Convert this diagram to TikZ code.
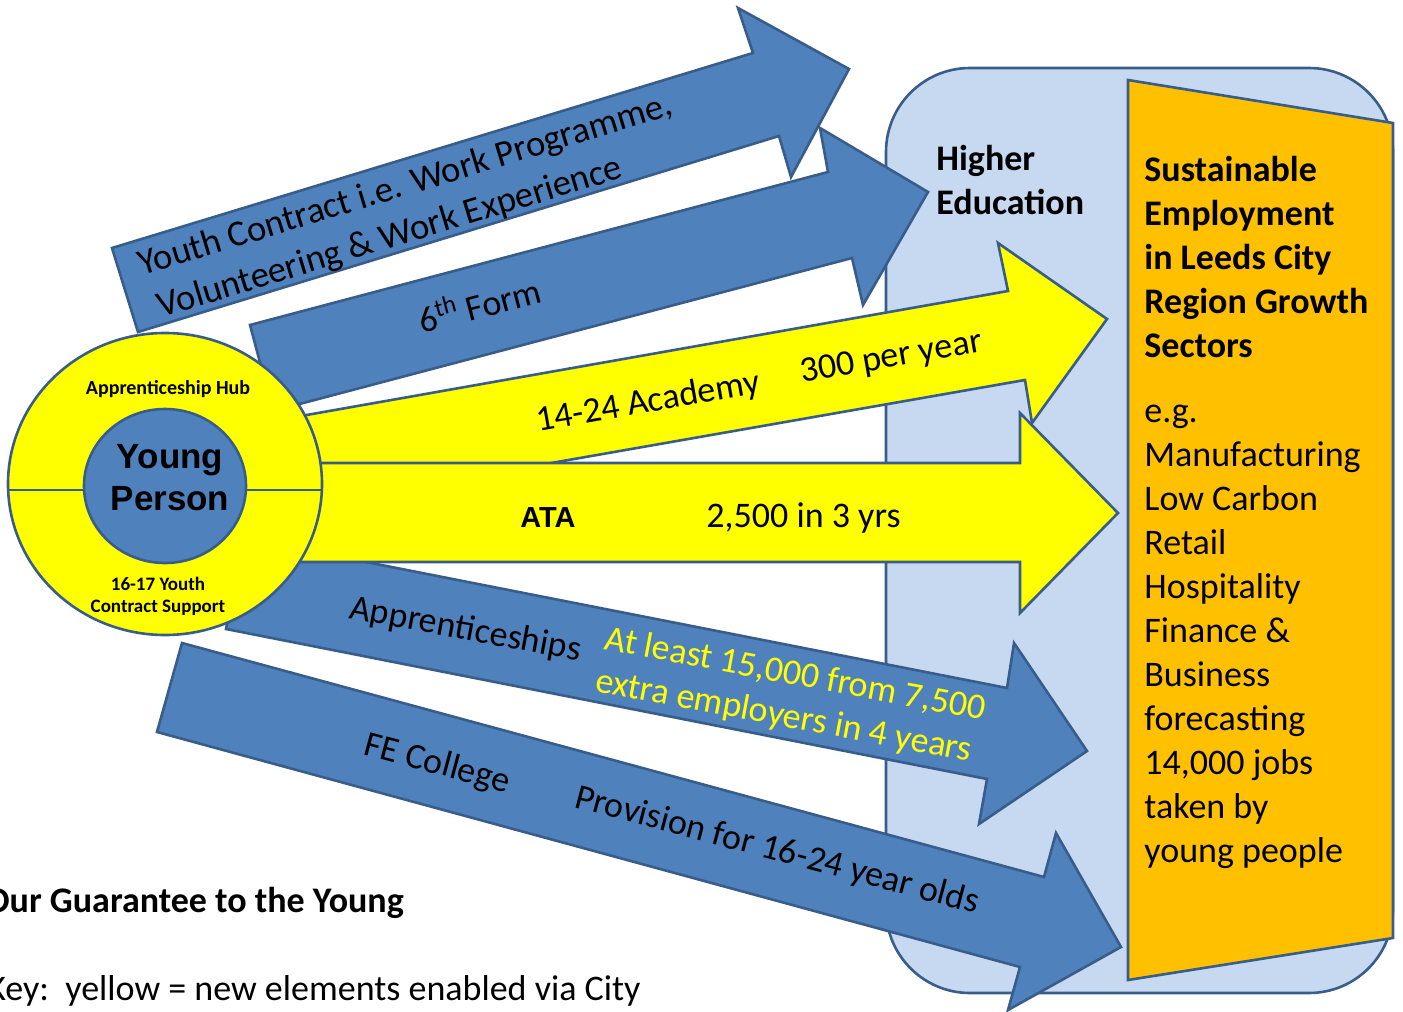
\documentclass[tikz,border=0pt]{standalone}
\usepackage{fontspec}
\setmainfont{Carlito}
\newfontfamily\arialfont{Liberation Sans}
\definecolor{arrowblue}{HTML}{4F81BD}
\definecolor{edgeblue}{HTML}{385D8A}
\definecolor{paleblue}{HTML}{C6D9F1}
\definecolor{panelorange}{HTML}{FFC000}
\definecolor{hubyellow}{HTML}{FFFF00}
\begin{document}
\begin{tikzpicture}[x=0.5pt,y=-0.5pt,
  outl/.style={draw=edgeblue,line width=1.3pt,line join=miter},
  bluearrow/.style={outl,fill=arrowblue},
  yellowarrow/.style={outl,fill=hubyellow},
  lbl/.style={inner sep=0pt,font=\fontsize{18pt}{22pt}\selectfont},
  blbl/.style={inner sep=0pt,font=\fontsize{18pt}{22pt}\selectfont\bfseries},
  rlbl/.style={lbl,anchor=base west},
  smallbold/.style={inner sep=0pt,anchor=base,font=\fontsize{9.5pt}{11pt}\selectfont\bfseries},
  ypfont/.style={inner sep=0pt,anchor=base,font=\arialfont\fontsize{17.5pt}{21pt}\selectfont\bfseries},
]
\useasboundingbox (0,0) rectangle (1403,1012);

% Higher Education panel
\draw[outl,fill=paleblue,rounded corners=42pt] (886,68) rectangle (1393,993);
% Sustainable employment panel
\draw[outl,fill=panelorange] (1128,80) -- (1393,123) -- (1393,938) -- (1128,980) -- cycle;

\node[blbl,anchor=base west] (he1) at (936,170) {Higher};
\node[blbl,anchor=base west] (he2) at (936,214) {Education};

\foreach \t [count=\i] in {Sustainable, Employment, in Leeds City, Region Growth, Sectors}
  \node[blbl,anchor=base west] (sus\i) at (1144,{181+44*(\i-1)}) {\t};
\foreach \t [count=\i] in {e.g., Manufacturing, Low Carbon, Retail, Hospitality, Finance \&, Business, forecasting, {14,000 jobs}, taken by, young people}
  \node[rlbl] (eg\i) at (1144,{422+44*(\i-1)}) {\t};

% Youth Contract arrow
\draw[bluearrow] (112,248) -- (753,53) -- (738,8) -- (849,69) -- (791,177) -- (779,136) -- (138,332) -- cycle;
% 6th Form arrow
\draw[bluearrow] (250,325) -- (828,172) -- (820,128) -- (928,192) -- (863,305) -- (852,258) -- (273,411) -- cycle;
% 14-24 Academy arrow
\draw[yellowarrow] (250,425) -- (1008,291) -- (998,243) -- (1107,319) -- (1032,423) -- (1025,380) -- (266,513) -- cycle;
% Apprenticeships arrow
\draw[bluearrow] (244,538) -- (1007,688) -- (1014,643) -- (1087,751) -- (979,824) -- (987,779) -- (226,629) -- cycle;
% ATA arrow
\draw[yellowarrow] (300,463) -- (1020,463) -- (1020,413) -- (1118,513) -- (1020,613) -- (1020,562) -- (300,562) -- cycle;
% FE College arrow
\draw[bluearrow] (182,643) -- (1044,877) -- (1056,833) -- (1121,947) -- (1008,1010) -- (1020,967) -- (157,732) -- cycle;

% hub
\draw[outl,fill=hubyellow] (165,484) ellipse [x radius=78.5pt, y radius=75.5pt];
\draw[outl] (8,490) -- (322,490);
\draw[outl,fill=arrowblue] (165,486) ellipse [x radius=40.5pt, y radius=38.5pt];
\node[smallbold,font=\fontsize{10pt}{11pt}\selectfont\bfseries] (hub) at (168,394) {Apprenticeship Hub};
\node[ypfont] (yp1) at (170,468) {Young};
\node[ypfont] (yp2) at (170,510) {Person};
\node[smallbold] (yc1) at (158,590) {16-17 Youth};
\node[smallbold] (yc2) at (158,612) {Contract Support};

% arrow labels
\node[rlbl,rotate=16.9,font=\fontsize{18.3pt}{22pt}\selectfont] (yt1) at (142,276) {Youth Contract i.e. Work Programme,};
\node[rlbl,rotate=16.9,font=\fontsize{18.3pt}{22pt}\selectfont] (yt2) at (161,318) {Volunteering \& Work Experience};
\node[rlbl,rotate=14.8] (sixth) at (422,334) {6\textsuperscript{th} Form};
\node[rlbl,rotate=10] (acad) at (538,432) {14-24 Academy};
\node[rlbl,rotate=10] (acadn) at (802,383) {300 per year};
\node[inner sep=0pt,anchor=base,font=\arialfont\fontsize{14.5pt}{16pt}\selectfont\bfseries] (ata) at (548,527) {ATA};
\node[rlbl] (atan) at (706,527) {2,500 in 3 yrs};
\node[rlbl,rotate=-10.5] (appr) at (348,618) {Apprenticeships};
\node[rlbl,rotate=-10.6,text=hubyellow] (appr1) at (603,649) {At least 15,000 from 7,500};
\node[rlbl,rotate=-10.6,text=hubyellow] (appr2) at (594,691) {extra employers in 4 years};
\node[rlbl,rotate=-15] (fe) at (362,754) {FE College};
\node[rlbl,rotate=-14.8] (prov) at (573,807) {Provision for 16-24 year olds};

% bottom texts
\node[blbl,anchor=base west] (guar) at (-15,912) {Our Guarantee to the Young};
\node[rlbl] (key) at (-13,1000) {Key:\ \ yellow = new elements enabled via City};
\end{tikzpicture}
\end{document}
